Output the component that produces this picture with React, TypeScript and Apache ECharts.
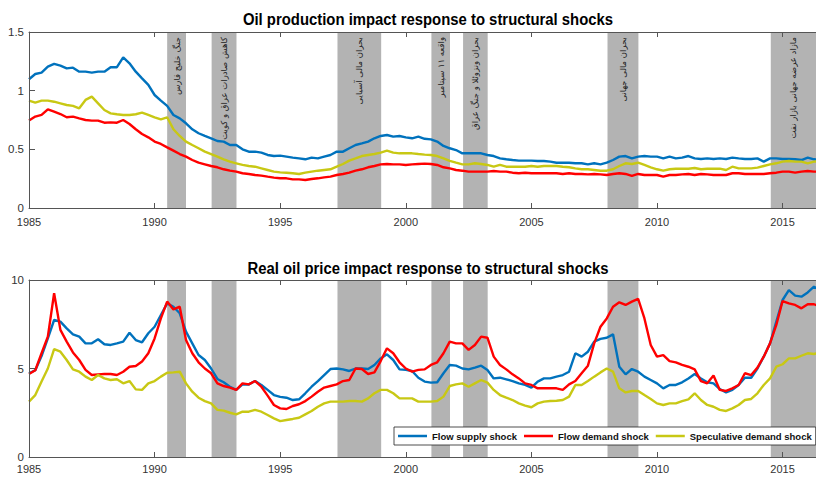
import React, { useEffect, useRef } from 'react';
import * as echarts from 'echarts';

const START_YEAR = 1985;
const STEP = 0.25; // quarterly observations

const seriesNames = ['Flow supply shock', 'Flow demand shock', 'Speculative demand shock'];
const seriesColors = ['#0072bd', '#ff0000', '#c8c814'];

const topTitle = 'Oil production impact response to structural shocks';
const bottomTitle = 'Real oil price impact response to structural shocks';

// Oil production impact (top panel)
const prodSupply = [
  1.097, 1.142, 1.154, 1.205, 1.228, 1.213, 1.19, 1.196, 1.162, 1.162, 1.154, 1.162,
  1.162, 1.2, 1.2, 1.284, 1.233, 1.162, 1.105, 1.049, 0.963, 0.915, 0.87, 0.793,
  0.764, 0.722, 0.671, 0.637, 0.614, 0.594, 0.571, 0.566, 0.537, 0.537, 0.5, 0.48,
  0.48, 0.472, 0.452, 0.443, 0.446, 0.438, 0.429, 0.423, 0.415, 0.429, 0.423, 0.438,
  0.452, 0.48, 0.48, 0.509, 0.537, 0.551, 0.566, 0.594, 0.614, 0.622, 0.608, 0.614,
  0.602, 0.594, 0.608, 0.59, 0.585, 0.566, 0.529, 0.509, 0.494, 0.466, 0.466, 0.466,
  0.466, 0.452, 0.443, 0.423, 0.415, 0.409, 0.404, 0.404, 0.404, 0.401, 0.401, 0.395,
  0.386, 0.386, 0.386, 0.381, 0.381, 0.372, 0.381, 0.372, 0.386, 0.409, 0.438, 0.443,
  0.423, 0.438, 0.443, 0.438, 0.438, 0.423, 0.438, 0.423, 0.429, 0.443, 0.423, 0.418,
  0.423, 0.418, 0.423, 0.418, 0.429, 0.423, 0.418, 0.418, 0.423, 0.395, 0.423, 0.423,
  0.418, 0.418, 0.415, 0.409, 0.429, 0.415, 0.41
];
const prodDemand = [
  0.745, 0.779, 0.793, 0.841, 0.821, 0.801, 0.773, 0.779, 0.764, 0.75, 0.745, 0.745,
  0.727, 0.73, 0.727, 0.75, 0.716, 0.671, 0.631, 0.602, 0.566, 0.546, 0.517, 0.489,
  0.46, 0.438, 0.409, 0.386, 0.372, 0.358, 0.347, 0.33, 0.318, 0.31, 0.296, 0.29,
  0.281, 0.276, 0.267, 0.259, 0.253, 0.253, 0.244, 0.244, 0.239, 0.247, 0.253, 0.261,
  0.267, 0.281, 0.29, 0.301, 0.318, 0.33, 0.347, 0.358, 0.372, 0.375, 0.372, 0.372,
  0.367, 0.372, 0.375, 0.378, 0.375, 0.367, 0.347, 0.338, 0.324, 0.318, 0.31, 0.31,
  0.31, 0.31, 0.315, 0.31, 0.31, 0.301, 0.296, 0.301, 0.296, 0.296, 0.296, 0.296,
  0.296, 0.29, 0.296, 0.29, 0.29, 0.287, 0.29, 0.287, 0.281, 0.29, 0.296, 0.29,
  0.273, 0.29, 0.281, 0.281, 0.281, 0.267, 0.281, 0.281, 0.287, 0.29, 0.281, 0.29,
  0.287, 0.281, 0.281, 0.281, 0.296, 0.296, 0.29, 0.29, 0.29, 0.29, 0.296, 0.301,
  0.31, 0.31, 0.301, 0.31, 0.315, 0.31, 0.31
];
const prodSpeculative = [
  0.915, 0.898, 0.915, 0.915, 0.906, 0.892, 0.878, 0.87, 0.85, 0.921, 0.949, 0.892,
  0.835, 0.807, 0.799, 0.793, 0.793, 0.799, 0.813, 0.793, 0.773, 0.756, 0.773, 0.671,
  0.614, 0.566, 0.537, 0.509, 0.48, 0.46, 0.438, 0.415, 0.395, 0.381, 0.367, 0.358,
  0.352, 0.338, 0.324, 0.31, 0.304, 0.301, 0.296, 0.29, 0.301, 0.31, 0.318, 0.324,
  0.33, 0.352, 0.375, 0.404, 0.423, 0.443, 0.452, 0.46, 0.472, 0.489, 0.472, 0.466,
  0.466, 0.466, 0.46, 0.455, 0.452, 0.443, 0.423, 0.401, 0.386, 0.372, 0.372, 0.381,
  0.375, 0.367, 0.352, 0.367, 0.352, 0.352, 0.352, 0.352, 0.358, 0.352, 0.358, 0.358,
  0.358, 0.352, 0.347, 0.338, 0.33, 0.33, 0.324, 0.318, 0.318, 0.33, 0.358, 0.381,
  0.375, 0.386, 0.367, 0.347, 0.33, 0.318, 0.33, 0.335, 0.335, 0.335, 0.341, 0.33,
  0.335, 0.335, 0.335, 0.324, 0.352, 0.338, 0.338, 0.338, 0.344, 0.358, 0.372, 0.381,
  0.395, 0.401, 0.395, 0.395, 0.381, 0.395, 0.4
];

// Real oil price impact (bottom panel)
const priceSupply = [
  4.73, 4.9, 5.7, 6.7, 7.74, 7.65, 7.27, 6.93, 6.8, 6.42, 6.42, 6.65,
  6.37, 6.33, 6.42, 6.52, 7.02, 6.61, 6.48, 6.99, 7.36, 8.02, 8.68, 8.49,
  8.12, 7.08, 6.42, 5.76, 5.48, 5.0, 4.41, 4.22, 3.97, 3.79, 4.1, 4.1,
  4.29, 4.07, 3.79, 3.5, 3.4, 3.35, 3.22, 3.26, 3.6, 3.97, 4.29, 4.63,
  4.97, 5.0, 4.95, 4.86, 5.0, 5.0, 4.97, 5.2, 5.57, 5.8, 5.48, 4.95,
  4.92, 4.86, 4.48, 4.26, 4.2, 4.22, 4.73, 5.2, 5.16, 5.0, 4.95, 5.05,
  5.16, 4.92, 4.44, 4.48, 4.39, 4.29, 4.16, 4.07, 3.92, 4.26, 4.44, 4.44,
  4.54, 4.63, 4.82, 5.86, 5.67, 5.95, 6.52, 6.67, 6.74, 6.93, 5.1, 4.67,
  4.97, 4.82, 4.54, 4.35, 4.16, 3.88, 4.07, 4.07, 4.22, 4.44, 4.69, 4.44,
  4.22, 4.16, 3.84, 3.65, 3.79, 4.07, 4.48, 4.48, 5.0, 5.67, 6.42, 7.65,
  8.87, 9.43, 9.12, 9.06, 9.3, 9.62, 9.43
];
const priceDemand = [
  4.69, 4.9, 5.86, 6.8, 9.25, 7.18, 6.52, 5.91, 5.48, 4.92, 4.63, 4.67,
  4.69, 4.69, 4.63, 4.82, 5.1, 5.14, 5.39, 5.86, 6.7, 7.83, 8.78, 8.34,
  8.49, 6.61, 5.86, 5.35, 5.0, 4.73, 4.16, 4.01, 3.92, 3.79, 4.16, 4.1,
  4.29, 3.97, 3.47, 2.94, 2.75, 2.71, 2.88, 2.98, 3.16, 3.41, 3.69, 3.92,
  4.01, 4.1, 4.29, 4.35, 5.0, 4.97, 4.69, 4.78, 5.42, 6.14, 5.86, 5.35,
  5.0, 4.82, 4.92, 4.95, 5.2, 5.35, 5.86, 6.52, 6.42, 6.42, 6.05, 6.33,
  6.8, 6.74, 5.67, 5.2, 4.95, 4.67, 4.44, 4.16, 4.07, 3.88, 3.88, 3.88,
  3.88, 3.79, 4.1, 4.29, 4.73, 5.16, 6.42, 7.36, 7.83, 8.49, 8.74, 8.59,
  8.78, 8.93, 7.83, 6.33, 5.67, 5.76, 5.42, 5.35, 5.2, 5.1, 4.95, 4.29,
  4.16, 4.6, 3.79, 3.73, 3.88, 4.07, 4.73, 4.63, 5.05, 5.67, 6.42, 7.46,
  8.81, 8.68, 8.59, 8.4, 8.63, 8.63, 8.49
];
const priceSpeculative = [
  3.13, 3.5, 4.26, 5.0, 6.1, 5.95, 5.48, 4.95, 4.82, 4.54, 4.35, 4.63,
  4.44, 4.35, 4.39, 4.16, 4.29, 3.82, 3.79, 4.16, 4.29, 4.54, 4.76, 4.78,
  4.82, 4.16, 3.69, 3.35, 3.16, 3.03, 2.66, 2.62, 2.5, 2.41, 2.56, 2.56,
  2.66, 2.56, 2.37, 2.18, 2.03, 2.09, 2.15, 2.22, 2.41, 2.6, 2.84, 3.03,
  3.13, 3.13, 3.13, 3.16, 3.16, 3.13, 3.31, 3.6, 3.79, 3.79, 3.6, 3.31,
  3.31, 3.31, 3.13, 3.13, 3.13, 3.16, 3.41, 4.01, 4.1, 4.16, 3.97, 4.16,
  4.35, 4.2, 3.79, 3.5, 3.35, 3.22, 3.03, 2.9, 2.81, 3.03, 3.13, 3.16,
  3.18, 3.22, 3.41, 4.07, 4.07, 4.29, 4.54, 4.78, 5.0, 4.82, 3.88, 3.65,
  3.73, 3.73, 3.5, 3.28, 3.03, 2.94, 3.03, 3.03, 3.16, 3.26, 3.6, 3.22,
  2.94, 2.84, 2.66, 2.6, 2.75, 2.94, 3.22, 3.28, 3.6, 4.07, 4.44, 5.1,
  5.24, 5.57, 5.57, 5.72, 5.86, 5.82, 5.9
];

// Event bands (shaded periods) and their labels
const bandStart = [1990.5, 1992.27, 1997.28, 2001.02, 2002.28, 2008.03, 2014.53];
const bandEnd = [1991.25, 1993.26, 1999.02, 2001.76, 2003.26, 2009.26, 2016.33];
const bandLabels = [
  'جنگ خلیج فارس',
  'کاهش صادرات عراق و کویت',
  'بحران مالی آسیایی',
  'واقعه ۱۱ سپتامبر',
  'بحران ونزوئلا و جنگ عراق',
  'بحران مالی جهانی',
  'مازاد عرضه جهانی بازار نفت',
];

const X_MIN = 1985;
const X_MAX = 2016.33;
const FONT = "'Liberation Sans', Arial, Helvetica, sans-serif";
const AXIS_COLOR = '#555';
const LABEL_COLOR = '#333';

export default function App() {
  const ref = useRef<HTMLDivElement>(null);

  useEffect(() => {
    if (!ref.current) return;
    const chart = echarts.init(ref.current, null, { renderer: 'svg' });
    const toPairs = (vals: number[]) => vals.map((v, i) => [START_YEAR + i * STEP, v]);

    const xAxisBase = (gridIndex: number, position: 'top' | 'bottom', labelMargin: number) => ({
      gridIndex,
      type: 'value',
      min: X_MIN,
      max: X_MAX,
      interval: 5,
      position,
      z: 5,
      axisLine: { show: true, lineStyle: { color: AXIS_COLOR, width: 1 } },
      axisTick: { show: true, inside: true, length: 5, lineStyle: { color: AXIS_COLOR, width: 1 } },
      axisLabel: {
        show: position === 'bottom',
        margin: labelMargin,
        fontSize: 11,
        color: LABEL_COLOR,
        fontFamily: FONT,
        showMaxLabel: false,
        formatter: (v: number) => String(v),
      },
      splitLine: { show: false },
    });

    const yAxisBase = (gridIndex: number, max: number, interval: number) => ({
      gridIndex,
      type: 'value',
      min: 0,
      max,
      interval,
      z: 5,
      axisLine: { show: true, lineStyle: { color: AXIS_COLOR, width: 1 } },
      axisTick: { show: true, inside: true, length: 6, lineStyle: { color: AXIS_COLOR, width: 1 } },
      axisLabel: {
        margin: 5,
        fontSize: 11.5,
        color: LABEL_COLOR,
        fontFamily: FONT,
        formatter: (v: number) => String(v),
      },
      splitLine: { show: false },
    });

    const bandSeries = (xAxisIndex: number, yAxisIndex: number) => ({
      type: 'line',
      xAxisIndex,
      yAxisIndex,
      data: [],
      silent: true,
      z: 1,
      markArea: {
        silent: true,
        itemStyle: { color: '#b3b3b3' },
        data: bandStart.map((s, i) => [{ xAxis: s }, { xAxis: bandEnd[i] }]),
      },
    });

    const lineSeries = (name: string, color: string, vals: number[], xAxisIndex: number, yAxisIndex: number) => ({
      name,
      type: 'line',
      xAxisIndex,
      yAxisIndex,
      data: toPairs(vals),
      symbol: 'none',
      showSymbol: false,
      z: 3,
      lineStyle: { color, width: 2.4 },
      itemStyle: { color },
    });

    const option: any = {
      animation: false,
      backgroundColor: '#fff',
      grid: [
        { left: 29, top: 32, right: 0, height: 176 },
        { left: 29, top: 280, right: 0, height: 177 },
      ],
      xAxis: [
        xAxisBase(0, 'bottom', 8),
        xAxisBase(0, 'top', 8),
        xAxisBase(1, 'bottom', 6),
        xAxisBase(1, 'top', 8),
      ],
      yAxis: [yAxisBase(0, 1.5, 0.5), yAxisBase(1, 10, 5)],
      legend: {
        data: seriesNames,
        left: 394,
        top: 427,
        width: 600,
        orient: 'horizontal',
        icon: 'rect',
        padding: [4, 4, 4, 4],
        itemGap: 7,
        itemWidth: 29,
        itemHeight: 2.5,
        borderColor: '#222',
        borderWidth: 0.8,
        backgroundColor: '#fff',
        z: 10,
        textStyle: { fontSize: 9.5, fontWeight: 'bold', color: '#111', fontFamily: FONT },
      },
      series: [
        bandSeries(0, 0),
        lineSeries(seriesNames[0], seriesColors[0], prodSupply, 0, 0),
        lineSeries(seriesNames[1], seriesColors[1], prodDemand, 0, 0),
        lineSeries(seriesNames[2], seriesColors[2], prodSpeculative, 0, 0),
        bandSeries(2, 1),
        lineSeries(seriesNames[0], seriesColors[0], priceSupply, 2, 1),
        lineSeries(seriesNames[1], seriesColors[1], priceDemand, 2, 1),
        lineSeries(seriesNames[2], seriesColors[2], priceSpeculative, 2, 1),
      ],
    };

    chart.setOption(option);

    const labelGraphics = bandLabels.map((text, i) => {
      const cx = chart.convertToPixel({ xAxisIndex: 0 } as any, (bandStart[i] + bandEnd[i]) / 2) as number;
      return {
        type: 'text',
        x: cx,
        y: 37,
        rotation: Math.PI / 2,
        z: 10,
        silent: true,
        style: {
          text,
          font: '8.5px "DejaVu Sans"',
          fill: '#222',
          align: 'right',
          verticalAlign: 'middle',
        },
      };
    });

    const titleGraphics = [
      { text: topTitle, y: 19.5 },
      { text: bottomTitle, y: 268.5 },
    ].map((t) => ({
      type: 'text',
      x: 428,
      y: t.y,
      scaleX: 0.875,
      z: 10,
      style: {
        text: t.text,
        font: `bold 17px ${FONT}`,
        fill: '#000',
        align: 'center',
        verticalAlign: 'middle',
      },
    }));

    chart.setOption({ graphic: [...titleGraphics, ...labelGraphics] });

    return () => chart.dispose();
  }, []);

  return (
    <div
      ref={ref}
      style={{ position: 'fixed', left: 0, top: 0, width: 816, height: 477 }}
    />
  );
}
